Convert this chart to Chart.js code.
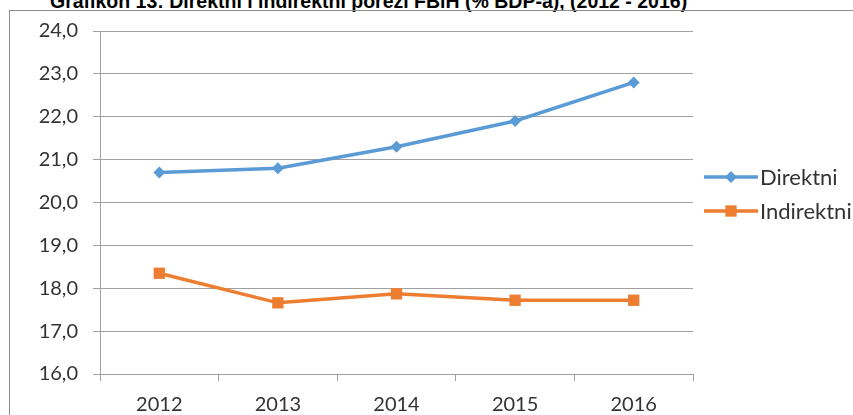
<!DOCTYPE html>
<html>
<head>
<meta charset="utf-8">
<script src="https://cdn.jsdelivr.net/npm/chart.js@4/dist/chart.umd.min.js"></script>
<style>
  html, body { margin: 0; padding: 0; background: #fff; overflow: hidden; width: 853px; height: 415px; }
  #title { position: absolute; left: 50px; top: -9px; font-family: "Liberation Sans", Arial, sans-serif; font-weight: bold; font-size: 19.5px; line-height: 20px; color: #000; white-space: nowrap; }
  #frame { position: absolute; left: 9px; top: 10px; width: 900px; height: 500px; border-left: 1px solid #8c8c8c; border-top: 1px solid #8c8c8c; }
  #wrap { position: absolute; left: 10px; top: 4px; width: 843px; height: 411px; }
</style>
</head>
<body>
<div id="title">Grafikon 13: Direktni i indirektni porezi FBiH (% BDP-a), (2012 - 2016)</div>
<div id="frame"></div>
<div id="wrap"><canvas id="c"></canvas></div>
<script>
const years = ["2012", "2013", "2014", "2015", "2016"];
const direktni = [20.7, 20.8, 21.3, 21.9, 22.8];
const indirektni = [18.35, 17.66, 17.87, 17.72, 17.72];
const seriesNames = ["Direktni", "Indirektni"];
const yMin = 16, yMax = 24, yStep = 1;

const BLUE = "#5B9BD5", ORANGE = "#ED7D31";
const FONT = "Lato, 'Liberation Sans', sans-serif";

const legendPlugin = {
  id: "lineLegend",
  afterDraw(chart) {
    const ctx = chart.ctx;
    const a = chart.chartArea;
    ctx.save();
    chart.data.datasets.forEach((ds, i) => {
      const y = a.top + 146 + i * 34;
      const x0 = a.right + 11, x1 = a.right + 65, xm = (x0 + x1) / 2;
      ctx.strokeStyle = ds.borderColor;
      ctx.lineWidth = ds.borderWidth;
      ctx.beginPath(); ctx.moveTo(x0, y); ctx.lineTo(x1, y); ctx.stroke();
      ctx.fillStyle = ds.pointBackgroundColor;
      ctx.beginPath();
      const r = ds.pointRadius;
      if (ds.pointStyle === "rectRot") {
        ctx.moveTo(xm, y - r); ctx.lineTo(xm + r, y); ctx.lineTo(xm, y + r); ctx.lineTo(xm - r, y);
      } else {
        const s = Math.SQRT1_2 * r;
        ctx.rect(xm - s, y - s, 2 * s, 2 * s);
      }
      ctx.closePath(); ctx.fill();
      ctx.fillStyle = "#333";
      ctx.font = "22px " + FONT;
      ctx.textBaseline = "middle";
      ctx.textAlign = "left";
      ctx.fillText(ds.label, x1 + 2, y + 1);
    });
    ctx.restore();
  }
};

new Chart(document.getElementById("c"), {
  type: "line",
  data: {
    labels: years,
    datasets: [
      { label: seriesNames[0], data: direktni, borderColor: BLUE, backgroundColor: BLUE,
        pointBackgroundColor: BLUE, pointBorderColor: BLUE, borderWidth: 3.5,
        pointStyle: "rectRot", pointRadius: 6, pointBorderWidth: 0, tension: 0 },
      { label: seriesNames[1], data: indirektni, borderColor: ORANGE, backgroundColor: ORANGE,
        pointBackgroundColor: ORANGE, pointBorderColor: ORANGE, borderWidth: 3.5,
        pointStyle: "rect", pointRadius: 8, pointBorderWidth: 0, tension: 0 }
    ]
  },
  options: {
    responsive: true,
    maintainAspectRatio: false,
    animation: false,
    events: [],
    layout: { padding: { top: 13, right: 160, left: 0, bottom: 0 } },
    plugins: { legend: { display: false }, title: { display: false }, tooltip: { enabled: false } },
    scales: {
      x: {
        offset: true,
        grid: { offset: true, drawOnChartArea: false, drawTicks: true, tickLength: 7, color: "#a0a0a0", lineWidth: 1 },
        border: { color: "#a0a0a0", width: 1 },
        ticks: { color: "#333", font: { family: FONT, size: 20 }, padding: 12, maxRotation: 0 },
        afterFit(s) { s.height = 41; }
      },
      y: {
        min: yMin, max: yMax,
        grid: { color: "#a0a0a0", lineWidth: 1, tickLength: 7, drawTicks: true },
        border: { color: "#a0a0a0", width: 1 },
        ticks: { stepSize: yStep, color: "#333", font: { family: FONT, size: 20 }, padding: 15,
          callback: v => v.toFixed(1).replace(".", ",") },
        afterFit(s) { s.width = 90; }
      }
    }
  },
  plugins: [legendPlugin]
});
</script>
</body>
</html>
